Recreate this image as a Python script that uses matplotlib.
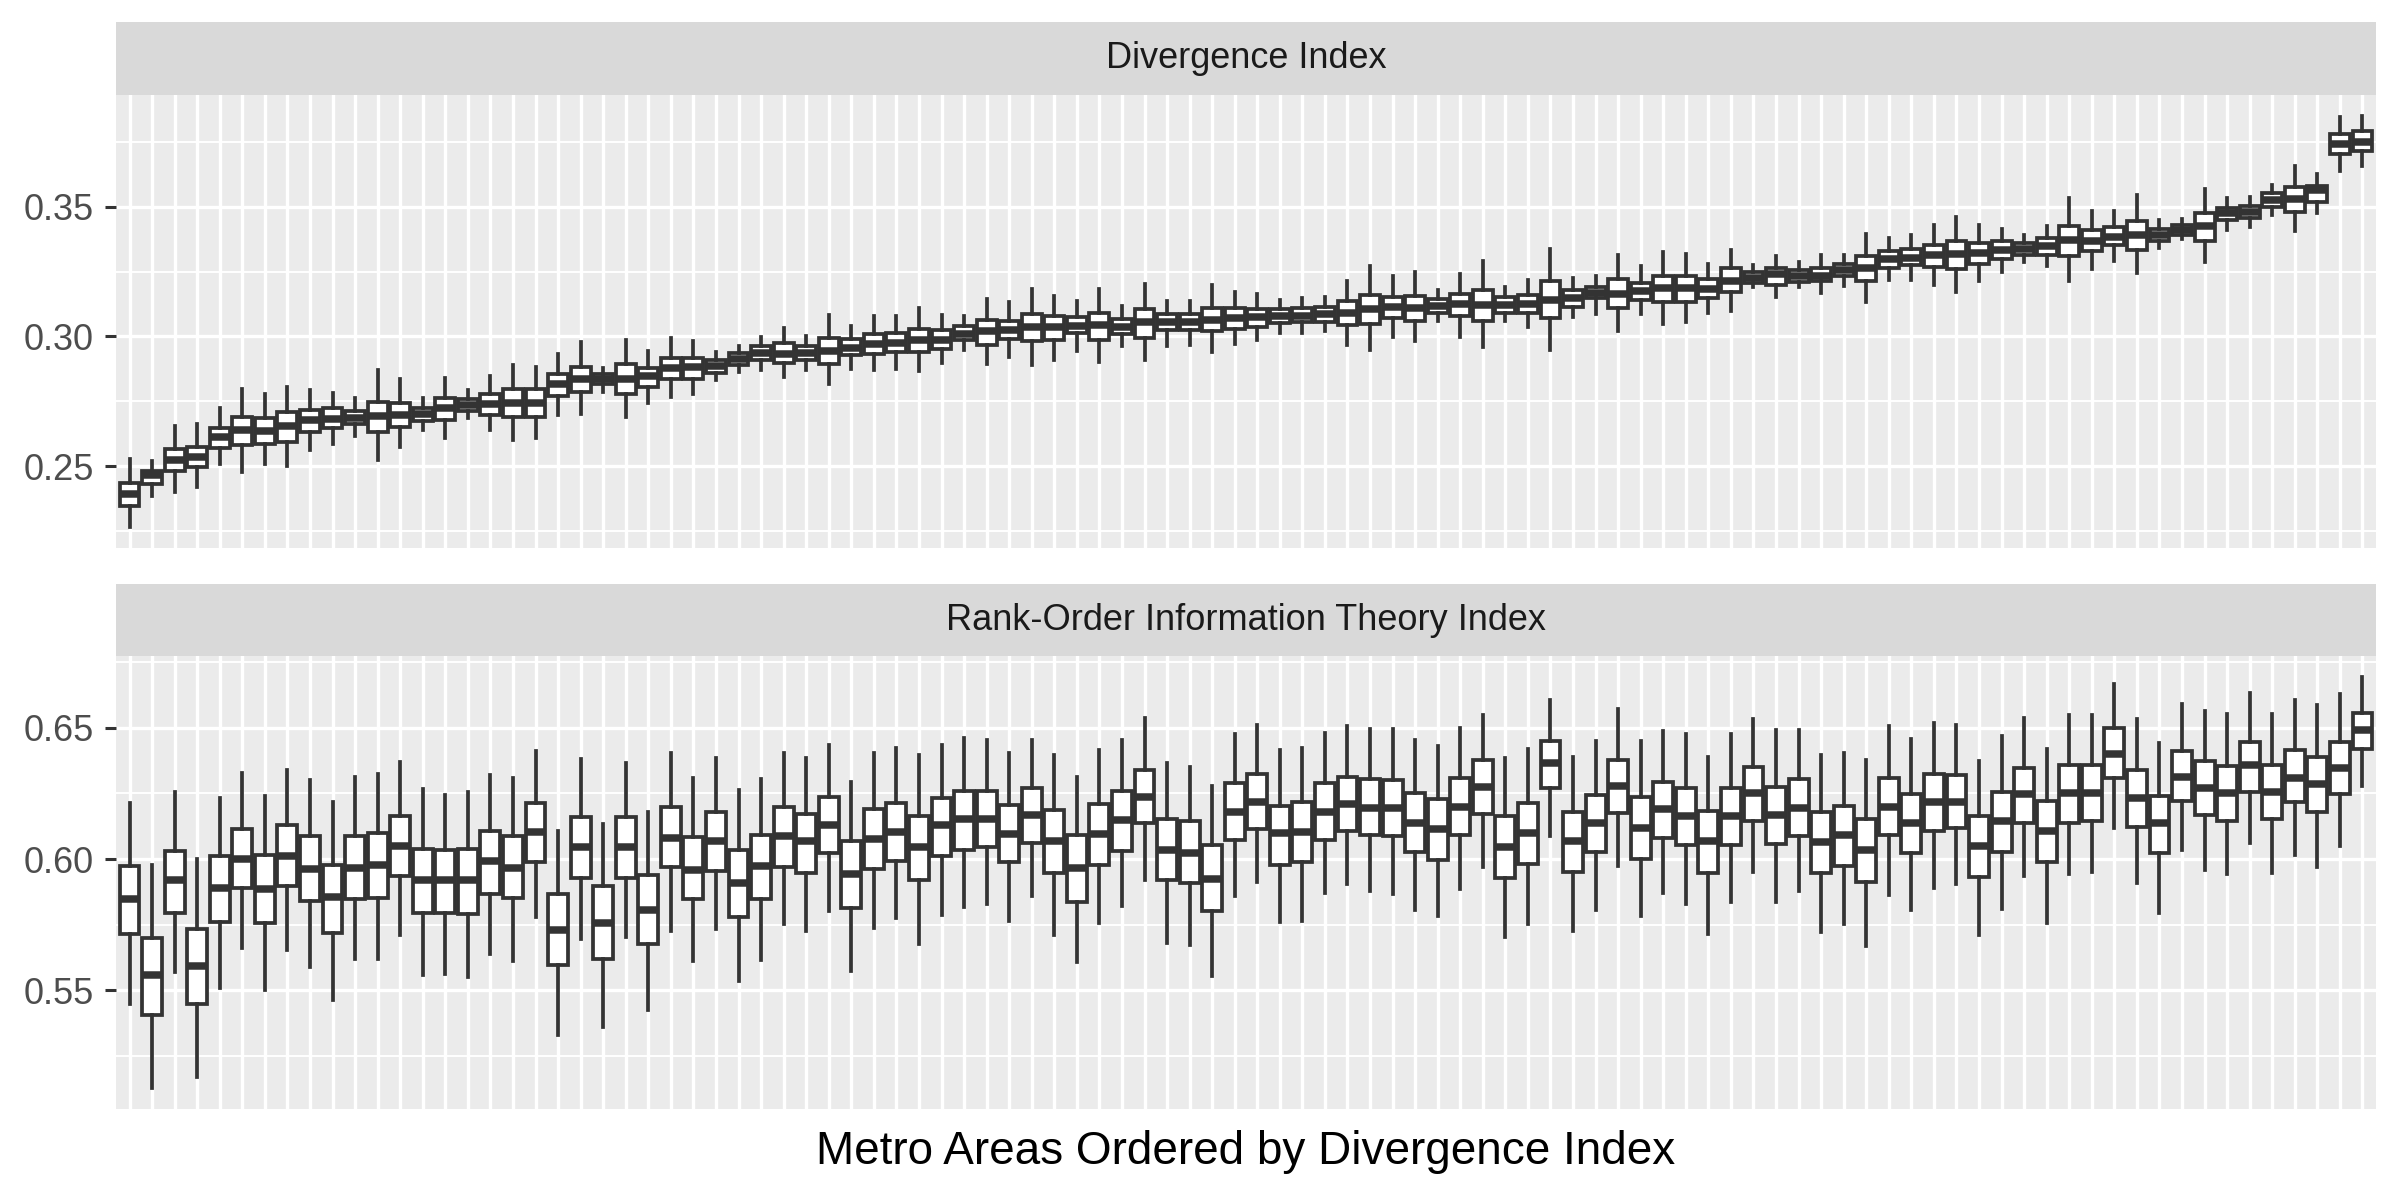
import matplotlib
matplotlib.use("Agg")
import matplotlib.pyplot as plt
import numpy as np

plt.rcParams['font.family'] = ['Liberation Sans', 'DejaVu Sans']

# 100 metro areas, ordered by the Divergence Index
metros = np.arange(1, 101)

# Divergence Index: upper whisker, upper hinge, median, lower hinge, lower whisker
div_whi = [0.2528, 0.2519, 0.2655, 0.2662, 0.2723, 0.2796, 0.2777, 0.2807, 0.2792, 0.2783,
           0.2761, 0.2869, 0.2834, 0.2761, 0.2838, 0.2793, 0.2849, 0.2888, 0.2883, 0.2934,
           0.2980, 0.2879, 0.2987, 0.2945, 0.2994, 0.2981, 0.2939, 0.2964, 0.2997, 0.3033,
           0.3003, 0.3083, 0.3041, 0.3077, 0.3077, 0.3108, 0.3083, 0.3077, 0.3143, 0.3131,
           0.3181, 0.3156, 0.3137, 0.3181, 0.3117, 0.3202, 0.3138, 0.3138, 0.3198, 0.3171,
           0.3162, 0.3140, 0.3149, 0.3153, 0.3213, 0.3271, 0.3232, 0.3248, 0.3179, 0.3240,
           0.3290, 0.3191, 0.3217, 0.3338, 0.3226, 0.3232, 0.3314, 0.3271, 0.3324, 0.3318,
           0.3281, 0.3332, 0.3274, 0.3309, 0.3287, 0.3315, 0.3315, 0.3395, 0.3381, 0.3392,
           0.3430, 0.3462, 0.3430, 0.3414, 0.3392, 0.3426, 0.3534, 0.3483, 0.3483, 0.3545,
           0.3449, 0.3452, 0.3570, 0.3534, 0.3538, 0.3583, 0.3656, 0.3625, 0.3847, 0.3851]
div_q3 = [0.2436, 0.2481, 0.2566, 0.2575, 0.2649, 0.2691, 0.2684, 0.2707, 0.2715, 0.2723,
          0.2713, 0.2749, 0.2745, 0.2726, 0.2764, 0.2758, 0.2779, 0.2796, 0.2796, 0.2856,
          0.2883, 0.2856, 0.2892, 0.2879, 0.2917, 0.2917, 0.2908, 0.2936, 0.2962, 0.2974,
          0.2964, 0.2994, 0.2991, 0.3009, 0.3013, 0.3029, 0.3023, 0.3041, 0.3064, 0.3061,
          0.3087, 0.3079, 0.3073, 0.3089, 0.3066, 0.3105, 0.3085, 0.3085, 0.3108, 0.3111,
          0.3106, 0.3105, 0.3108, 0.3112, 0.3137, 0.3160, 0.3151, 0.3157, 0.3143, 0.3163,
          0.3179, 0.3151, 0.3160, 0.3213, 0.3179, 0.3189, 0.3220, 0.3207, 0.3232, 0.3232,
          0.3223, 0.3262, 0.3249, 0.3262, 0.3255, 0.3264, 0.3279, 0.3311, 0.3330, 0.3338,
          0.3353, 0.3369, 0.3360, 0.3366, 0.3360, 0.3381, 0.3427, 0.3411, 0.3423, 0.3445,
          0.3413, 0.3430, 0.3477, 0.3496, 0.3503, 0.3551, 0.3577, 0.3579, 0.3781, 0.3791]
div_med = [0.2391, 0.2466, 0.2525, 0.2534, 0.2611, 0.2639, 0.2636, 0.2655, 0.2678, 0.2681,
           0.2685, 0.2694, 0.2698, 0.2700, 0.2723, 0.2735, 0.2738, 0.2745, 0.2745, 0.2818,
           0.2834, 0.2834, 0.2834, 0.2847, 0.2879, 0.2883, 0.2885, 0.2913, 0.2936, 0.2934,
           0.2936, 0.2943, 0.2955, 0.2971, 0.2974, 0.2987, 0.2987, 0.3010, 0.3019, 0.3026,
           0.3036, 0.3036, 0.3041, 0.3045, 0.3038, 0.3057, 0.3057, 0.3057, 0.3064, 0.3070,
           0.3074, 0.3077, 0.3080, 0.3085, 0.3089, 0.3105, 0.3112, 0.3111, 0.3117, 0.3124,
           0.3121, 0.3121, 0.3124, 0.3140, 0.3147, 0.3168, 0.3162, 0.3176, 0.3185, 0.3185,
           0.3182, 0.3214, 0.3227, 0.3240, 0.3232, 0.3232, 0.3255, 0.3264, 0.3298, 0.3302,
           0.3312, 0.3319, 0.3321, 0.3334, 0.3338, 0.3347, 0.3372, 0.3369, 0.3385, 0.3392,
           0.3392, 0.3411, 0.3427, 0.3474, 0.3481, 0.3526, 0.3528, 0.3564, 0.3740, 0.3751]
div_q1 = [0.2348, 0.2430, 0.2482, 0.2496, 0.2571, 0.2582, 0.2585, 0.2592, 0.2630, 0.2649,
          0.2662, 0.2630, 0.2652, 0.2675, 0.2678, 0.2713, 0.2696, 0.2690, 0.2690, 0.2770,
          0.2787, 0.2815, 0.2779, 0.2805, 0.2837, 0.2837, 0.2860, 0.2888, 0.2908, 0.2898,
          0.2908, 0.2892, 0.2927, 0.2932, 0.2939, 0.2940, 0.2952, 0.2985, 0.2968, 0.2990,
          0.2981, 0.2987, 0.3013, 0.2987, 0.3010, 0.2994, 0.3026, 0.3026, 0.3019, 0.3028,
          0.3038, 0.3051, 0.3054, 0.3057, 0.3045, 0.3048, 0.3070, 0.3060, 0.3089, 0.3077,
          0.3061, 0.3092, 0.3092, 0.3070, 0.3115, 0.3147, 0.3108, 0.3140, 0.3134, 0.3134,
          0.3147, 0.3170, 0.3204, 0.3198, 0.3211, 0.3213, 0.3232, 0.3213, 0.3264, 0.3277,
          0.3268, 0.3260, 0.3279, 0.3298, 0.3315, 0.3315, 0.3311, 0.3328, 0.3351, 0.3334,
          0.3369, 0.3392, 0.3369, 0.3449, 0.3455, 0.3500, 0.3478, 0.3519, 0.3702, 0.3713]
div_wlo = [0.2264, 0.2384, 0.2400, 0.2418, 0.2510, 0.2479, 0.2510, 0.2499, 0.2564, 0.2587,
           0.2617, 0.2525, 0.2575, 0.2639, 0.2610, 0.2684, 0.2639, 0.2601, 0.2610, 0.2698,
           0.2700, 0.2787, 0.2690, 0.2742, 0.2768, 0.2779, 0.2832, 0.2862, 0.2870, 0.2842,
           0.2870, 0.2816, 0.2876, 0.2870, 0.2876, 0.2866, 0.2898, 0.2946, 0.2892, 0.2921,
           0.2889, 0.2908, 0.2943, 0.2900, 0.2962, 0.2911, 0.2964, 0.2968, 0.2939, 0.2972,
           0.2985, 0.3015, 0.3015, 0.3019, 0.2968, 0.2949, 0.2996, 0.2981, 0.3061, 0.2996,
           0.2958, 0.3061, 0.3036, 0.2949, 0.3073, 0.3086, 0.3019, 0.3086, 0.3047, 0.3057,
           0.3092, 0.3098, 0.3189, 0.3153, 0.3191, 0.3168, 0.3194, 0.3133, 0.3217, 0.3219,
           0.3200, 0.3171, 0.3215, 0.3247, 0.3285, 0.3270, 0.3213, 0.3261, 0.3289, 0.3245,
           0.3341, 0.3375, 0.3285, 0.3411, 0.3423, 0.3468, 0.3408, 0.3477, 0.3638, 0.3656]

# Rank-Order Information Theory Index, same metro order
rank_whi = [0.6212, 0.5979, 0.6254, 0.6000, 0.6234, 0.6326, 0.6240, 0.6338, 0.6301, 0.6216,
            0.6313, 0.6323, 0.6368, 0.6265, 0.6244, 0.6254, 0.6320, 0.6309, 0.6410, 0.6107,
            0.6380, 0.6134, 0.6364, 0.6178, 0.6405, 0.6307, 0.6386, 0.6263, 0.6304, 0.6405,
            0.6386, 0.6436, 0.6292, 0.6402, 0.6424, 0.6395, 0.6433, 0.6462, 0.6452, 0.6405,
            0.6455, 0.6398, 0.6311, 0.6417, 0.6455, 0.6538, 0.6364, 0.6351, 0.6278, 0.6477,
            0.6512, 0.6417, 0.6424, 0.6481, 0.6505, 0.6496, 0.6496, 0.6452, 0.6429, 0.6500,
            0.6549, 0.6383, 0.6421, 0.6606, 0.6389, 0.6448, 0.6571, 0.6448, 0.6486, 0.6475,
            0.6389, 0.6475, 0.6534, 0.6490, 0.6490, 0.6395, 0.6405, 0.6376, 0.6505, 0.6456,
            0.6519, 0.6509, 0.6373, 0.6467, 0.6538, 0.6421, 0.6547, 0.6547, 0.6667, 0.6534,
            0.6443, 0.6591, 0.6562, 0.6551, 0.6633, 0.6553, 0.6604, 0.6585, 0.6629, 0.6695]
rank_q3 = [0.5975, 0.5698, 0.6032, 0.5732, 0.6013, 0.6115, 0.6014, 0.6130, 0.6086, 0.5979,
           0.6086, 0.6099, 0.6165, 0.6039, 0.6033, 0.6039, 0.6105, 0.6086, 0.6212, 0.5867,
           0.6159, 0.5896, 0.6159, 0.5938, 0.6200, 0.6082, 0.6181, 0.6033, 0.6090, 0.6200,
           0.6172, 0.6237, 0.6067, 0.6191, 0.6215, 0.6164, 0.6234, 0.6260, 0.6260, 0.6206,
           0.6272, 0.6187, 0.6090, 0.6210, 0.6259, 0.6341, 0.6153, 0.6143, 0.6052, 0.6288,
           0.6322, 0.6203, 0.6218, 0.6288, 0.6313, 0.6303, 0.6301, 0.6250, 0.6227, 0.6307,
           0.6379, 0.6165, 0.6212, 0.6448, 0.6181, 0.6244, 0.6379, 0.6235, 0.6294, 0.6269,
           0.6184, 0.6272, 0.6351, 0.6275, 0.6303, 0.6181, 0.6203, 0.6153, 0.6309, 0.6248,
           0.6323, 0.6320, 0.6162, 0.6256, 0.6347, 0.6222, 0.6360, 0.6360, 0.6499, 0.6341,
           0.6241, 0.6412, 0.6374, 0.6355, 0.6446, 0.6360, 0.6414, 0.6389, 0.6446, 0.6557]
rank_med = [0.5846, 0.5558, 0.5919, 0.5593, 0.5889, 0.6001, 0.5886, 0.6013, 0.5963, 0.5855,
            0.5966, 0.5979, 0.6051, 0.5919, 0.5919, 0.5919, 0.5991, 0.5966, 0.6101, 0.5730,
            0.6045, 0.5758, 0.6045, 0.5806, 0.6080, 0.5960, 0.6069, 0.5909, 0.5972, 0.6086,
            0.6067, 0.6130, 0.5944, 0.6076, 0.6101, 0.6044, 0.6128, 0.6152, 0.6152, 0.6096,
            0.6168, 0.6067, 0.5966, 0.6095, 0.6149, 0.6237, 0.6035, 0.6023, 0.5925, 0.6181,
            0.6217, 0.6099, 0.6101, 0.6181, 0.6208, 0.6196, 0.6196, 0.6139, 0.6114, 0.6200,
            0.6275, 0.6045, 0.6099, 0.6364, 0.6067, 0.6139, 0.6278, 0.6120, 0.6189, 0.6162,
            0.6067, 0.6162, 0.6250, 0.6168, 0.6193, 0.6063, 0.6092, 0.6033, 0.6200, 0.6136,
            0.6219, 0.6219, 0.6048, 0.6143, 0.6246, 0.6105, 0.6253, 0.6253, 0.6399, 0.6231,
            0.6136, 0.6313, 0.6272, 0.6253, 0.6357, 0.6256, 0.6307, 0.6285, 0.6345, 0.6493]
rank_q1 = [0.5713, 0.5406, 0.5795, 0.5448, 0.5761, 0.5888, 0.5758, 0.5896, 0.5840, 0.5720,
           0.5848, 0.5852, 0.5934, 0.5795, 0.5795, 0.5789, 0.5867, 0.5852, 0.5989, 0.5596,
           0.5928, 0.5619, 0.5928, 0.5675, 0.5968, 0.5846, 0.5953, 0.5780, 0.5848, 0.5970,
           0.5947, 0.6023, 0.5814, 0.5962, 0.5991, 0.5919, 0.6010, 0.6035, 0.6045, 0.5987,
           0.6061, 0.5947, 0.5837, 0.5979, 0.6032, 0.6136, 0.5919, 0.5907, 0.5802, 0.6071,
           0.6116, 0.5979, 0.5987, 0.6073, 0.6105, 0.6090, 0.6086, 0.6027, 0.5997, 0.6092,
           0.6172, 0.5928, 0.5982, 0.6269, 0.5951, 0.6027, 0.6177, 0.6001, 0.6080, 0.6052,
           0.5947, 0.6055, 0.6143, 0.6058, 0.6086, 0.5947, 0.5975, 0.5912, 0.6092, 0.6023,
           0.6107, 0.6117, 0.5932, 0.6027, 0.6139, 0.5989, 0.6136, 0.6146, 0.6307, 0.6121,
           0.6023, 0.6222, 0.6168, 0.6143, 0.6256, 0.6152, 0.6216, 0.6178, 0.6247, 0.6421]
rank_wlo = [0.5448, 0.5126, 0.5568, 0.5170, 0.5509, 0.5662, 0.5501, 0.5653, 0.5590, 0.5461,
            0.5619, 0.5619, 0.5710, 0.5559, 0.5563, 0.5552, 0.5638, 0.5612, 0.5779, 0.5328,
            0.5697, 0.5360, 0.5701, 0.5425, 0.5726, 0.5612, 0.5735, 0.5536, 0.5616, 0.5751,
            0.5726, 0.5802, 0.5574, 0.5739, 0.5776, 0.5678, 0.5787, 0.5817, 0.5827, 0.5764,
            0.5859, 0.5711, 0.5608, 0.5757, 0.5821, 0.5919, 0.5679, 0.5673, 0.5555, 0.5859,
            0.5913, 0.5760, 0.5764, 0.5871, 0.5903, 0.5877, 0.5865, 0.5805, 0.5783, 0.5884,
            0.5970, 0.5704, 0.5751, 0.6086, 0.5726, 0.5805, 0.5972, 0.5783, 0.5871, 0.5827,
            0.5713, 0.5836, 0.5951, 0.5836, 0.5877, 0.5722, 0.5751, 0.5667, 0.5862, 0.5805,
            0.5888, 0.5903, 0.5710, 0.5811, 0.5934, 0.5758, 0.5943, 0.5949, 0.6117, 0.5909,
            0.5795, 0.6033, 0.5957, 0.5941, 0.6061, 0.5947, 0.6014, 0.5970, 0.6048, 0.6279]

panels = [
    ("Divergence Index", div_whi, div_q3, div_med, div_q1, div_wlo, [0.25, 0.30, 0.35]),
    ("Rank-Order Information Theory Index", rank_whi, rank_q3, rank_med, rank_q1, rank_wlo,
     [0.55, 0.60, 0.65]),
]

W, H = 2400, 1200
# pixel boxes: (top of strip, bottom of strip, bottom of panel)
layout = [(22, 95, 548), (584, 656, 1109)]
left_px, right_px = 116, 2376

ink = '#333333'
fig = plt.figure(figsize=(12, 6), dpi=200)

for (title, whi, q3, med, q1, wlo, ticks), (st, sb, pb) in zip(panels, layout):
    ax = fig.add_axes([left_px / W, 1 - pb / H, (right_px - left_px) / W, (pb - sb) / H])
    sax = fig.add_axes([left_px / W, 1 - sb / H, (right_px - left_px) / W, (sb - st) / H])

    ax.set_facecolor('#EBEBEB')
    ax.set_axisbelow(True)
    stats = [dict(med=m, q1=a, q3=b, whislo=lo, whishi=hi, fliers=[])
             for m, a, b, lo, hi in zip(med, q1, q3, wlo, whi)]
    ax.bxp(stats, positions=metros, widths=0.88, patch_artist=True,
           showcaps=False, showfliers=False, manage_ticks=False,
           boxprops=dict(facecolor='white', edgecolor=ink, linewidth=1.35),
           medianprops=dict(color=ink, linewidth=2.7, solid_capstyle='butt'),
           whiskerprops=dict(color=ink, linewidth=1.35))

    lo, hi = min(wlo), max(whi)
    pad = 0.05 * (hi - lo)
    ax.set_ylim(lo - pad, hi + pad)
    ax.set_xlim(0.4, 100.6)

    ax.set_xticks(metros)
    ax.set_yticks(ticks)
    ax.set_yticklabels([f'{t:.2f}' for t in ticks])
    minor = np.arange(ticks[0] - 0.025, hi + pad, 0.05)
    ax.set_yticks(minor, minor=True)
    ax.grid(which='major', color='white', linewidth=1.2)
    ax.grid(which='minor', axis='y', color='white', linewidth=0.7)
    ax.tick_params(axis='x', length=0, labelbottom=False)
    ax.tick_params(axis='y', which='major', length=4, width=1.1, color=ink,
                   labelcolor='#4D4D4D', labelsize=13, pad=4)
    ax.tick_params(axis='y', which='minor', length=0)
    for s in ax.spines.values():
        s.set_visible(False)

    sax.set_facecolor('#D9D9D9')
    sax.set_xticks([])
    sax.set_yticks([])
    for s in sax.spines.values():
        s.set_visible(False)
    sax.text(0.5, 0.5, title, ha='center', va='center', fontsize=13,
             color='#1A1A1A', transform=sax.transAxes)

fig.text((left_px + right_px) / 2 / W, 1 - 1152 / H, 'Metro Areas Ordered by Divergence Index',
         ha='center', va='center', fontsize=16.5, color='black')

fig.savefig('out.png', dpi=200, facecolor='white')
